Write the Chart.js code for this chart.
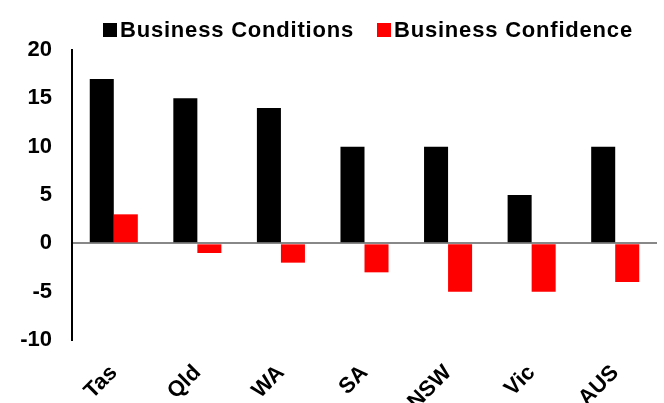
<!DOCTYPE html>
<html>
<head>
<meta charset="utf-8">
<script src="https://cdn.jsdelivr.net/npm/chart.js@4/dist/chart.umd.min.js"></script>
<style>
  html, body { margin: 0; padding: 0; background: #fff; }
  #wrap { width: 664px; height: 403px; }
</style>
</head>
<body>
<div id="wrap"><canvas id="mycanvas" width="664" height="403"></canvas></div>
<script>
var states = ['Tas', 'Qld', 'WA', 'SA', 'NSW', 'Vic', 'AUS'];
var conditions = [17, 15, 14, 10, 10, 5, 10];
var confidence = [3, -1, -2, -3, -5, -5, -4];
var yTicks = [-10, -5, 0, 5, 10, 15, 20];

var family = 'Arial, "Liberation Sans", sans-serif';
var font = { family: family, size: 22, weight: 'bold' };

// legend drawn by hand: small square right next to the label, like the spreadsheet one
var topLegend = {
	id: 'topLegend',
	afterDraw: function(chart) {
		var c = chart.ctx;
		var xs = [103, 377];
		var y = 30;
		c.save();
		c.font = 'bold 22px ' + family;
		c.textBaseline = 'middle';
		c.textAlign = 'left';
		if ('letterSpacing' in c) c.letterSpacing = '0.8px';
		chart.data.datasets.forEach(function(ds, i) {
			c.fillStyle = ds.backgroundColor;
			c.fillRect(xs[i], y - 7, 14, 14);
			c.fillStyle = '#000';
			c.fillText(ds.label, xs[i] + 17, y + 1);
		});
		c.restore();
	}
};

var chartdata = {
	labels: states,
	datasets: [
		{
			label: 'Business Conditions',
			backgroundColor: '#000000',
			data: conditions
		},
		{
			label: 'Business Confidence',
			backgroundColor: '#ff0000',
			data: confidence
		}
	]
};

var ctx = document.getElementById('mycanvas');

var barGraph = new Chart(ctx, {
	type: 'bar',
	data: chartdata,
	plugins: [topLegend],
	options: {
		responsive: false,
		animation: false,
		layout: { padding: { top: 50, right: 7, left: 0, bottom: 0 } },
		datasets: { bar: { categoryPercentage: 0.575, barPercentage: 1.0 } },
		plugins: {
			tooltip: { enabled: false },
			legend: { display: false }
		},
		scales: {
			x: {
				grid: { display: false },
				border: { display: false },
				ticks: {
					color: '#000',
					font: font,
					minRotation: 45,
					maxRotation: 45,
					padding: 12
				},
				afterFit: function(scale) { scale.height = 63; }
			},
			y: {
				min: -10,
				max: 20,
				afterBuildTicks: function(scale) {
					scale.ticks = yTicks.map(function(v) { return { value: v }; });
				},
				afterFit: function(scale) { scale.width = 72; },
				border: { display: true, color: '#000', width: 2 },
				grid: {
					drawTicks: false,
					lineWidth: 2,
					color: function(c) { return c.tick && c.tick.value === 0 ? '#888888' : 'rgba(0,0,0,0)'; }
				},
				ticks: {
					color: '#000',
					font: font,
					padding: 20
				}
			}
		}
	}
});
</script>
</body>
</html>
